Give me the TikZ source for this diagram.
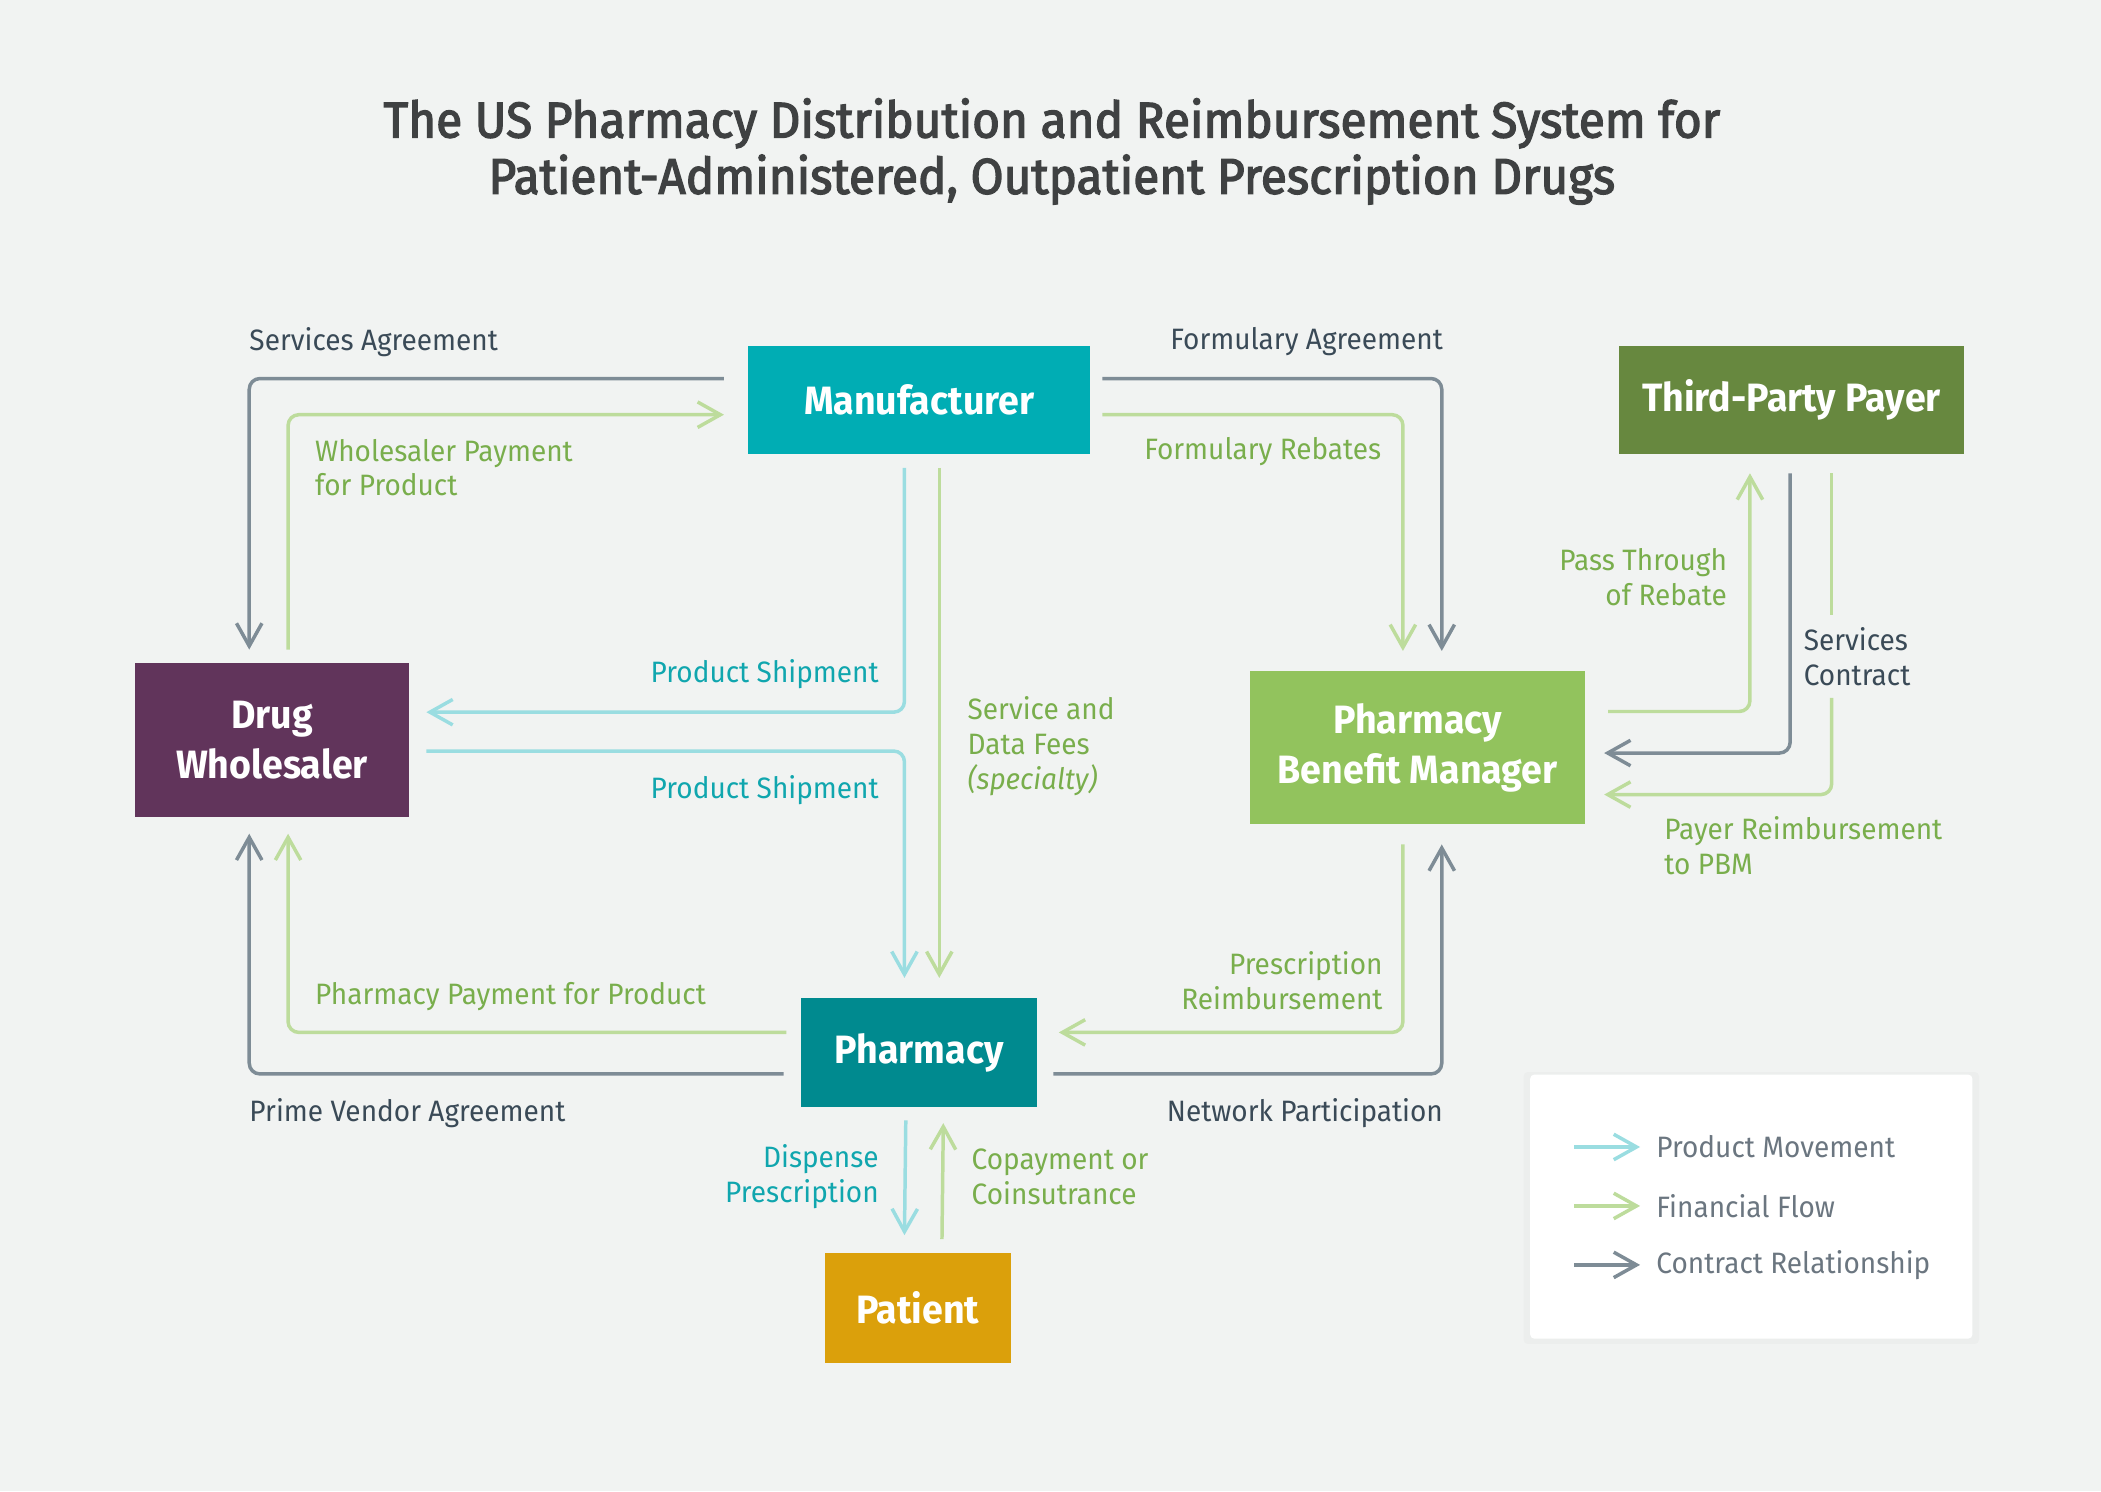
\documentclass[tikz,border=0pt]{standalone}
\usepackage{fontspec}
\setmainfont[FakeStretch=0.95]{Fira Sans}
\newfontfamily\titlefont[FakeStretch=0.95,FakeBold=2.6]{Fira Sans}
\usetikzlibrary{arrows.meta,shadows}
\definecolor{bg}{HTML}{F1F3F2}
\definecolor{cgray}{HTML}{7E8C96}
\definecolor{cgreen}{HTML}{BDDC9C}
\definecolor{cblue}{HTML}{9ADDE1}
\definecolor{tgray}{HTML}{3A4A57}
\definecolor{tgreen}{HTML}{79AE4C}
\definecolor{tblue}{HTML}{10A6AE}
\definecolor{tleg}{HTML}{6B7680}
\definecolor{ttitle}{HTML}{3F4142}
\definecolor{cmfr}{HTML}{00ADB4}
\definecolor{ctpp}{HTML}{67883F}
\definecolor{cwhs}{HTML}{61345B}
\definecolor{cpbm}{HTML}{92C35D}
\definecolor{cphm}{HTML}{008A8F}
\definecolor{cpat}{HTML}{DBA00B}
\newcommand{\lblfont}{\fontsize{22}{26}\selectfont}
\newcommand{\boxfont}{\fontsize{29.5}{37}\selectfont\bfseries}
\tikzset{
	box/.style={inner sep=0pt, text=white, font=\boxfont, align=center},
	lbl/.style={inner sep=0pt, font=\lblfont, align=left},
	flow/.style={line width=2.6pt, rounded corners=8pt, -{Straight Barb[length=17pt,width=19pt]}},
	con/.style={flow, draw=cgray},
	fin/.style={flow, draw=cgreen},
	prod/.style={flow, draw=cblue}
}

\begin{document}
\begin{tikzpicture}[x=1pt,y=-1pt]
	\fill[bg] (0,0) rectangle (1568,1113);
	\useasboundingbox (0,0) rectangle (1568,1113);
	\node[text=ttitle, font=\fontsize{37.5}{42}\selectfont\titlefont, align=center] (title) at (785,113)
		{The US Pharmacy Distribution and Reimbursement System for\\Patient-Administered, Outpatient Prescription Drugs};
	
	% the six parties
	\node[box, fill=cmfr, minimum width=255pt, minimum height=81pt] (mfr) at (686,298.5) {Manufacturer};
	\node[box, fill=ctpp, minimum width=258pt, minimum height=81pt] (tpp) at (1337,298.5) {Third-Party Payer};
	\node[box, fill=cwhs, minimum width=204pt, minimum height=115pt] (whs) at (203,552.5) {Drug\\Wholesaler};
	\node[box, fill=cpbm, minimum width=250pt, minimum height=114pt] (pbm) at (1058,558) {Pharmacy\\Benefit Manager};
	\node[box, fill=cphm, minimum width=176pt, minimum height=81pt] (phm) at (686,785.5) {Pharmacy};
	\node[box, fill=cpat, minimum width=139pt, minimum height=82pt] (pat) at (685,976) {Patient};
	
	% labels
	\node[lbl, text=tgray, anchor=west] (sa) at (186,255) {Services Agreement};
	\node[lbl, text=tgreen, anchor=west] (wp) at (235,349) {Wholesaler Payment\\for Product};
	\node[lbl, text=tblue, anchor=east] (ps1) at (656,503) {Product Shipment};
	\node[lbl, text=tblue, anchor=east] (ps2) at (656,590) {Product Shipment};
	\node[lbl, text=tgreen, anchor=west] (sdf) at (722,557) {Service and\\Data Fees\\\textit{(specialty)}};
	\node[lbl, text=tgray, anchor=east] (fa) at (1077,255) {Formulary Agreement};
	\node[lbl, text=tgreen, anchor=east] (fr) at (1031,337) {Formulary Rebates};
	\node[lbl, text=tgreen, anchor=east, align=right] (pt) at (1289,431) {Pass Through\\of Rebate};
	\node[lbl, text=tgray, anchor=west, inner ysep=9pt] (sc) at (1346,490) {Services\\Contract};
	\node[lbl, text=tgreen, anchor=west] (prb) at (1242,631) {Payer Reimbursement\\to PBM};
	\node[lbl, text=tgreen, anchor=east, align=right] (rr) at (1032,732) {Prescription\\Reimbursement};
	\node[lbl, text=tgray, anchor=east] (np) at (1077,831) {Network Participation};
	\node[lbl, text=tgreen, anchor=west] (pp) at (235,744) {Pharmacy Payment for Product};
	\node[lbl, text=tgray, anchor=west] (pv) at (186,831) {Prime Vendor Agreement};
	\node[lbl, text=tblue, anchor=east, align=right] (dp) at (656,878) {Dispense\\Prescription};
	\node[lbl, text=tgreen, anchor=west] (cp) at (725,878) {Copayment or\\Coinsutrance};
	
	% manufacturer and wholesaler
	\draw[con] ([shift={(-18,-16)}]mfr.west) -| ([shift={(-17,-10)}]whs.north);
	\draw[fin] ([shift={(12,-10)}]whs.north) |- ([shift={(-18,11)}]mfr.west);
	\draw[prod] ([shift={(-11,10)}]mfr.south) |- ([shift={(13,-21)}]whs.east);
	\draw[prod] ([shift={(13,8)}]whs.east) -| ([shift={(-11,-15)}]phm.north);
	\draw[fin] ([shift={(15,10)}]mfr.south) -- ([shift={(15,-15)}]phm.north);
	% manufacturer and pbm
	\draw[con] ([shift={(9,-16)}]mfr.east) -| ([shift={(18,-15)}]pbm.north);
	\draw[fin] ([shift={(9,11)}]mfr.east) -| ([shift={(-11,-15)}]pbm.north);
	% pbm and payer
	\draw[fin] ([shift={(17,-27)}]pbm.east) -| ([shift={(-31,14)}]tpp.south);
	\draw[con] ([shift={(-1,14)}]tpp.south) |- ([shift={(14,4)}]pbm.east);
	\coordinate (pr) at ([shift={(30,14)}]tpp.south);
	\draw[fin, -] (pr) -- (pr |- sc.north);
	\draw[fin] (pr |- sc.south) |- ([shift={(14,35)}]pbm.east);
	% pharmacy
	\draw[fin] ([shift={(-11,15)}]pbm.south) |- ([shift={(16,-15)}]phm.east);
	\draw[con] ([shift={(12,16)}]phm.east) -| ([shift={(18,15)}]pbm.south);
	\draw[fin] ([shift={(-11,-15)}]phm.west) -| ([shift={(12,12)}]whs.south);
	\draw[con] ([shift={(-13,16)}]phm.west) -| ([shift={(-17,12)}]whs.south);
	\draw[prod] ([shift={(-10,10)}]phm.south) -- ([shift={(-10,-13)}]pat.north);
	\draw[fin] ([shift={(18,-10)}]pat.north) -- ([shift={(18,12)}]phm.south);
	
	% legend
	\node[fill=white, rounded corners=3pt, minimum width=330pt, minimum height=197pt,
		drop shadow={opacity=0.04, shadow xshift=0pt, shadow yshift=-1pt, shadow scale=1.03}] (leg) at (1307,900.5) {};
	\foreach \c/\t [count=\i] in {prod/Product Movement, fin/Financial Flow, con/Contract Relationship}{
		\coordinate (la\i) at (1175,{812+44*\i});
		\node[lbl, text=tleg, anchor=west] (lg\i) at (1236,{812+44*\i}) {\t};
		\draw[\c] (la\i) -- ([xshift=-12pt]lg\i.west);
	}
\end{tikzpicture}
\end{document}
